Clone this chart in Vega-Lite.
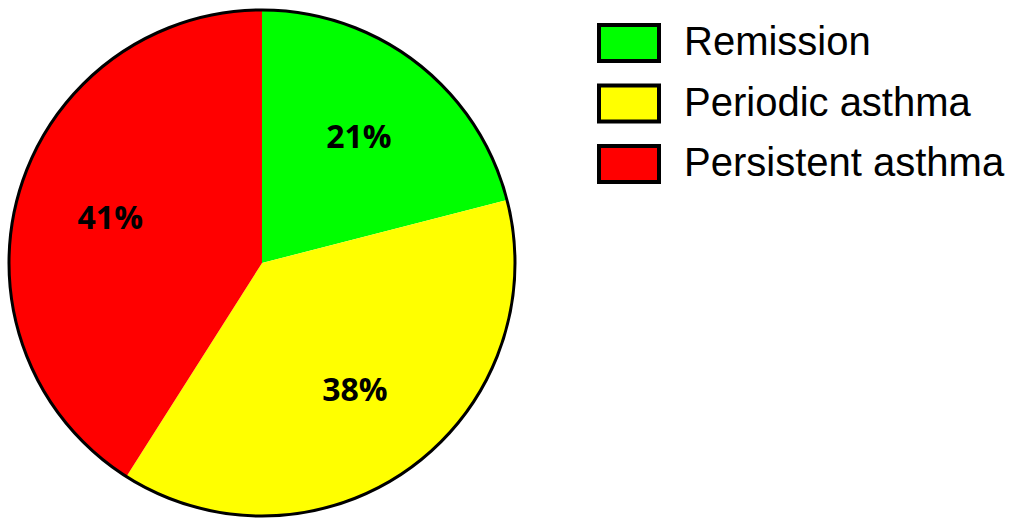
{
  "$schema": "https://vega.github.io/schema/vega-lite/v6.json",
  "width": 524,
  "height": 526,
  "padding": 0,
  "background": "white",
  "config": {"view": {"stroke": null}},
  "data": {
    "values": [
      {"status": "Remission", "share": 21, "label": "21%", "rank": 1},
      {"status": "Periodic asthma", "share": 38, "label": "38%", "rank": 2},
      {"status": "Persistent asthma", "share": 41, "label": "41%", "rank": 3}
    ]
  },
  "layer": [
    {
      "mark": {"type": "arc", "outerRadius": 253, "stroke": null},
      "encoding": {
        "theta": {"field": "share", "type": "quantitative", "stack": true},
        "order": {"field": "rank", "type": "quantitative"},
        "color": {
          "field": "status",
          "type": "nominal",
          "scale": {
            "domain": ["Remission", "Periodic asthma", "Persistent asthma"],
            "range": ["#00FF00", "#FFFF00", "#FF0000"]
          },
          "legend": {
            "title": null,
            "orient": "none",
            "legendX": 597,
            "legendY": 11,
            "symbolType": "M-1,-0.6H1V0.6H-1Z",
            "symbolSize": 3600,
            "symbolStrokeColor": "black",
            "symbolStrokeWidth": 4,
            "symbolOpacity": 1,
            "labelFont": "Liberation Sans",
            "labelFontSize": 40,
            "labelColor": "black",
            "labelOffset": 23,
            "rowPadding": 2.5,
            "labelLimit": 500
          }
        }
      }
    },
    {
      "mark": {"type": "arc", "outerRadius": 253, "fill": null, "stroke": "black", "strokeWidth": 3},
      "encoding": {
        "theta": {"aggregate": "sum", "field": "share", "type": "quantitative"}
      }
    },
    {
      "mark": {"type": "text", "radius": 158, "font": "Open Sans", "fontWeight": "bold", "fontSize": 32, "color": "black"},
      "encoding": {
        "theta": {"field": "share", "type": "quantitative", "stack": true},
        "order": {"field": "rank", "type": "quantitative"},
        "text": {"field": "label", "type": "nominal"}
      }
    }
  ]
}
